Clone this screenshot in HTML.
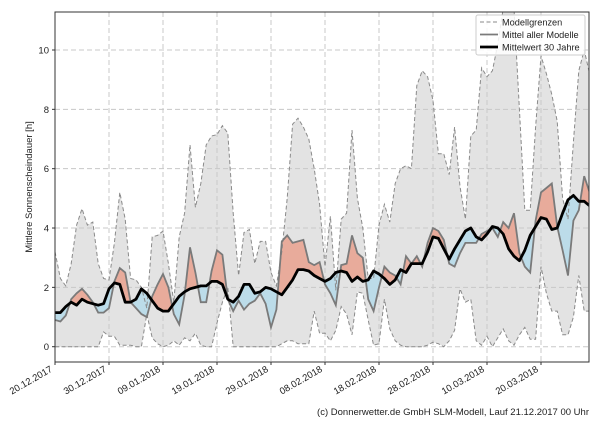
<!DOCTYPE html>
<html><head><meta charset="utf-8"><style>
body{margin:0;background:#fff;width:600px;height:420px;overflow:hidden;font-family:"Liberation Sans",sans-serif}
</style></head><body>
<svg id="s" width="600" height="420" xmlns="http://www.w3.org/2000/svg" font-family="Liberation Sans, sans-serif"></svg>
<script>
const up=[3.2,2.3,2.05,2.8,4.1,4.65,4.1,4.2,2.8,2.3,2.25,3.5,5.2,4.3,2.3,2.25,2.0,1.3,3.7,3.75,3.9,2.8,1.5,3.7,4.5,6.8,4.7,5.5,6.8,7.1,7.15,7.45,7.2,4.5,2.4,3.85,3.95,2.8,3.55,3.55,2.5,2.05,3.2,5.0,7.5,7.7,7.4,7.0,6.0,4.8,2.7,4.4,1.9,4.3,4.5,7.3,5.0,4.0,2.3,2.3,4.1,4.8,4.2,5.5,6.0,6.1,6.0,8.8,9.3,9.1,8.3,6.5,6.5,5.8,7.4,5.4,4.3,7.1,7.3,9.4,9.1,9.3,10.2,11.4,11.4,11.4,8.0,4.6,4.6,7.4,9.8,9.2,8.5,7.6,5.0,4.3,6.9,9.3,10.0,9.2];
const lo=[0,0,0,0,0,0,0,0,0,0.5,0.35,0.35,0.05,0.05,0.05,0,0,1.1,0.3,0.1,0,0.05,0.2,0.05,0.3,0.2,0.45,0.05,0,0,0.8,1.5,2.0,0,0,0,0,0,0,0,0,0,0.1,0.2,0.2,0.1,0.1,0.1,1.2,0.45,0.45,0.2,0.55,1.35,1.1,0.4,1.85,1.8,0.9,0.05,0.1,1.6,0.6,0.2,0.05,0,0,0,0,0.05,0.15,0.1,0,0.2,0.55,1.95,1.5,1.6,0.2,0.05,0.35,0,0.3,0.6,0.2,0.05,0.4,0.65,0.25,0.25,2.7,1.8,1.2,1.2,0.4,0.4,1.0,2.4,1.2,1.2];
const mn=[0.9,0.85,1.05,1.6,1.8,1.95,1.75,1.5,1.15,1.15,1.3,2.2,2.65,2.5,1.5,1.3,1.1,1.0,1.7,2.1,2.45,2.0,1.1,0.75,1.75,3.35,2.5,1.5,1.5,2.55,3.25,3.1,1.6,1.2,1.55,1.25,1.45,1.55,1.8,1.45,0.65,1.25,3.55,3.75,3.5,3.55,3.6,2.85,2.75,2.85,2.1,1.8,1.4,2.75,2.8,3.75,3.15,3.0,1.6,1.2,2.0,2.7,2.5,2.4,2.1,3.05,2.8,3.05,2.7,3.5,4.0,3.9,3.6,2.8,2.7,3.15,3.5,3.5,3.5,3.8,3.9,4.0,3.7,4.2,4.0,4.5,3.15,2.7,2.5,4.25,5.2,5.35,5.5,4.05,3.25,2.4,4.25,4.6,5.75,5.2];
const cl=[1.15,1.15,1.35,1.5,1.4,1.6,1.5,1.45,1.4,1.45,1.95,2.15,2.1,1.5,1.5,1.6,1.95,1.8,1.55,1.3,1.2,1.2,1.45,1.7,1.85,1.95,2.0,2.05,2.05,2.2,2.2,2.1,1.6,1.5,1.7,2.1,2.1,1.8,1.85,2.0,1.95,1.85,1.75,2.0,2.25,2.6,2.6,2.55,2.4,2.3,2.2,2.3,2.5,2.55,2.5,2.2,2.35,2.2,2.25,2.55,2.45,2.3,2.1,2.25,2.6,2.5,2.8,2.8,2.8,3.2,3.7,3.65,3.3,2.95,3.3,3.6,3.9,4.0,3.7,3.6,3.8,4.05,4.0,3.8,3.3,3.05,2.9,3.25,3.75,4.05,4.35,4.3,3.95,4.0,4.5,4.95,5.1,4.9,4.9,4.75];
const L=55,R=589,T=12,B=362;
const X=d=>55+5.4*d, Y=v=>346.7-29.67*v;
const line=a=>a.map((v,i)=>(i?'L':'M')+X(i).toFixed(1)+','+Y(v).toFixed(1)).join('');
const rev=a=>a.map((v,i)=>[i,v]).reverse().map(([i,v])=>'L'+X(i).toFixed(1)+','+Y(v).toFixed(1)).join('');
const n=up.length-1;
let h='';
h+=`<defs><clipPath id="pa"><rect x="${L}" y="${T}" width="${R-L}" height="${B-T}"/></clipPath>
<clipPath id="aboveCl"><path d="${line(cl)}L${X(n)},0L${X(0)},0Z"/></clipPath>
<clipPath id="aboveMn"><path d="${line(mn)}L${X(n)},0L${X(0)},0Z"/></clipPath></defs>`;
h+=`<g clip-path="url(#pa)">`;
h+=`<path d="${line(up)}${rev(lo)}Z" fill="#e3e3e3"/>`;
const g=[];
for(let v=0;v<=10;v+=2)g.push(`<line x1="${L}" x2="${R}" y1="${Y(v)}" y2="${Y(v)}"/>`);
for(let k=1;k<10;k++)g.push(`<line x1="${X(k*10)}" x2="${X(k*10)}" y1="${T}" y2="${B}"/>`);
h+=`<g stroke="#c8c8c8" stroke-width="1" stroke-dasharray="5,3">${g.join('')}</g>`;
h+=`<g clip-path="url(#aboveCl)"><path d="${line(mn)}L${X(n)},${B}L${X(0)},${B}Z" fill="#e8ab9b"/></g>`;
h+=`<g clip-path="url(#aboveMn)"><path d="${line(cl)}L${X(n)},${B}L${X(0)},${B}Z" fill="#bcdce9"/></g>`;
h+=`<path d="${line(up)}" fill="none" stroke="#8a8a8a" stroke-width="1" stroke-dasharray="4,2.5"/>`;
h+=`<path d="${line(lo)}" fill="none" stroke="#8a8a8a" stroke-width="1" stroke-dasharray="4,2.5"/>`;
h+=`<path d="${line(mn)}" fill="none" stroke="#7a7a7a" stroke-width="1.8"/>`;
h+=`<path d="${line(cl)}" fill="none" stroke="#000" stroke-width="2.8" stroke-linejoin="round"/>`;
h+=`</g>`;
h+=`<rect x="${L}" y="${T}" width="${R-L}" height="${B-T}" fill="none" stroke="#333" stroke-width="1"/>`;
for(let v=0;v<=10;v+=2){h+=`<line x1="${L-3}" x2="${L}" y1="${Y(v)}" y2="${Y(v)}" stroke="#333"/><text x="${L-6}" y="${Y(v)+3.5}" font-size="9.5" text-anchor="end" fill="#222">${v}</text>`;}
const labs=['20.12.2017','30.12.2017','09.01.2018','19.01.2018','29.01.2018','08.02.2018','18.02.2018','28.02.2018','10.03.2018','20.03.2018'];
labs.forEach((t,k)=>{const x=X(k*10);h+=`<line x1="${x}" x2="${x}" y1="${B}" y2="${B+3}" stroke="#333"/><text transform="translate(${x-2},${B+9}) rotate(-30)" font-size="9.5" text-anchor="end" fill="#222">${t}</text>`;});
h+=`<text transform="translate(32,187) rotate(-90)" font-size="9.5" text-anchor="middle" fill="#222">Mittlere Sonnenscheindauer [h]</text>`;
h+=`<rect x="476" y="15" width="109" height="40" fill="#fff" fill-opacity="0.85" stroke="#ccc" rx="2"/>`;
h+=`<line x1="480" x2="498" y1="22" y2="22" stroke="#8a8a8a" stroke-dasharray="4,2.5"/><text x="502" y="25.5" font-size="9.2" fill="#222">Modellgrenzen</text>`;
h+=`<line x1="480" x2="498" y1="34.5" y2="34.5" stroke="#7a7a7a" stroke-width="1.8"/><text x="502" y="38" font-size="9.2" fill="#222">Mittel aller Modelle</text>`;
h+=`<line x1="480" x2="498" y1="47" y2="47" stroke="#000" stroke-width="2.8"/><text x="502" y="50.5" font-size="9.2" fill="#222">Mittelwert 30 Jahre</text>`;
h+=`<text x="589" y="415" font-size="9.5" text-anchor="end" fill="#222">(c) Donnerwetter.de GmbH SLM-Modell, Lauf 21.12.2017 00 Uhr</text>`;
document.getElementById('s').innerHTML=h;
</script>
</body></html>
